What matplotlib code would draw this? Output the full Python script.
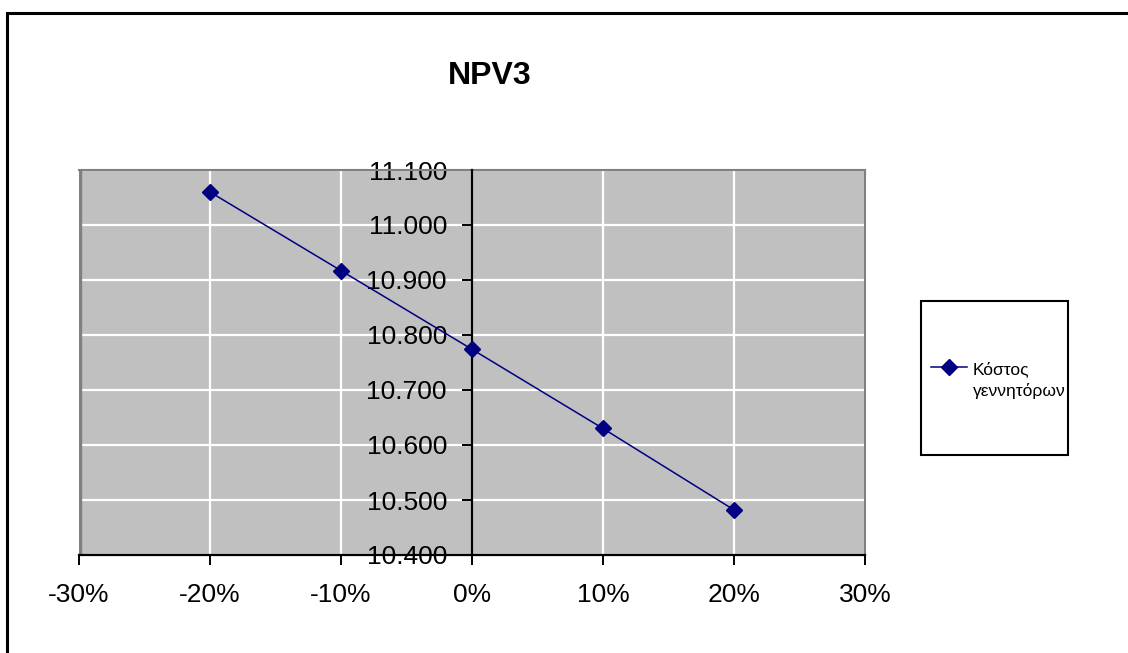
import matplotlib
matplotlib.use("Agg")
import matplotlib.pyplot as plt
from matplotlib.patches import Rectangle
from matplotlib.ticker import FuncFormatter
from matplotlib.legend_handler import HandlerLine2D

plt.rcParams['font.family'] = ['Liberation Sans', 'DejaVu Sans']

# data
change = [-20, -10, 0, 10, 20]            # % change
npv = [11.060, 10.917, 10.774, 10.630, 10.482]
series_name = "Κόστος\nγεννητόρων"
title = "NPV3"


class FirstLineHandler(HandlerLine2D):
    # put the legend symbol level with the first line of a two-line label
    def create_artists(self, legend, orig_handle, xdescent, ydescent,
                       width, height, fontsize, trans):
        arts = super().create_artists(legend, orig_handle, xdescent, ydescent,
                                      width, height, fontsize, trans)
        for a in arts:
            a.set_ydata([y + 0.72 * fontsize for y in a.get_ydata()])
        return arts


fig = plt.figure(figsize=(11.28, 6.53), dpi=100)
W, H = 1128, 653

# chart-area border (runs off the right and bottom of the image)
fig.patches.append(Rectangle((7 / W, -0.05), 1.2, 1 - 13 / H + 0.05,
                             transform=fig.transFigure, fill=False,
                             edgecolor='black', linewidth=2.2))

ax = fig.add_axes([79 / W, 1 - 555 / H, (865 - 79) / W, (555 - 170) / H])
ax.set_facecolor('#c0c0c0')
line, = ax.plot(change, npv, color='#000080', linewidth=1.1, marker='D',
                markersize=8.5, label=series_name, zorder=5)

ax.set_xlim(-30, 30)
ax.set_ylim(10.4, 11.1)
ax.set_xticks(range(-30, 31, 10))
ax.set_yticks([10.4 + 0.1 * i for i in range(8)])
ax.xaxis.set_major_formatter(FuncFormatter(lambda v, p: f"{v:.0f}%"))
ax.yaxis.set_major_formatter(FuncFormatter(lambda v, p: f"{v:.3f}"))
ax.grid(True, color='white', linewidth=1.6)
ax.set_axisbelow(True)

for s in ['top', 'right']:
    ax.spines[s].set_color('#808080')
    ax.spines[s].set_linewidth(1.5)
ax.spines['bottom'].set_linewidth(1.6)
ax.spines['left'].set_position(('data', 0))
ax.spines['left'].set_linewidth(1.6)
ax.spines['left'].set_zorder(4)
# left edge of the plot area
ax.add_patch(Rectangle((0, 0), 0.002, 1, transform=ax.transAxes,
                       facecolor='#808080', edgecolor='#808080',
                       linewidth=1.0, zorder=1))

ax.tick_params(axis='both', direction='out', length=7, width=1.4,
               labelsize=19, colors='black')
ax.tick_params(axis='x', pad=13)
ax.tick_params(axis='y', pad=11)

fig.text(490 / W, 1 - 76 / H, title, ha='center', va='center',
         fontsize=23, fontweight='bold')

# legend box
fig.patches.append(Rectangle((921 / W, 1 - 455 / H), (1068 - 921) / W,
                             (455 - 301) / H, transform=fig.transFigure,
                             fill=False, edgecolor='black', linewidth=1.5))
leg = fig.legend(handles=[line], loc='center left',
                 bbox_to_anchor=(931 / W, 1 - 380 / H),
                 handler_map={line: FirstLineHandler()},
                 frameon=False, fontsize=12.5, handlelength=2.1,
                 handletextpad=0.3, borderpad=0, borderaxespad=0)
for t in leg.get_texts():
    t.set_linespacing(1.45)

fig.savefig("out.png", dpi=100)
